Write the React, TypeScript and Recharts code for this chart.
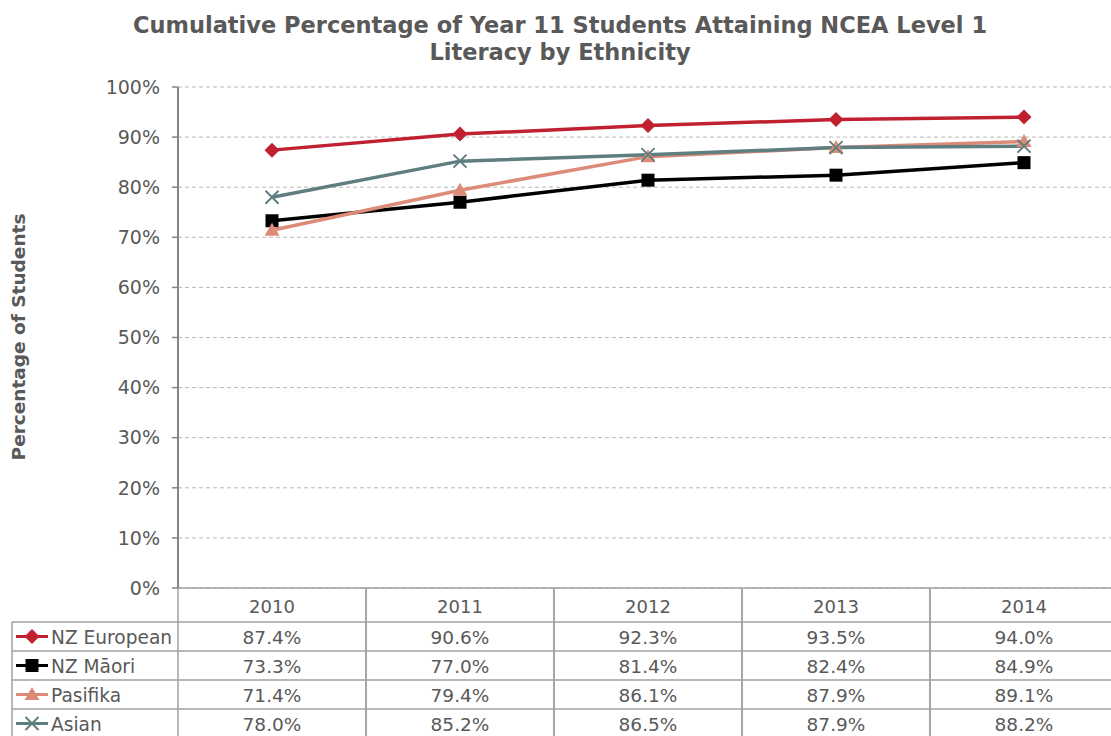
import { CartesianGrid, Line, LineChart, XAxis, YAxis } from "recharts";

const years = ["2010", "2011", "2012", "2013", "2014"];
const nzEuropean = [87.4, 90.6, 92.3, 93.5, 94.0];
const nzMaori = [73.3, 77.0, 81.4, 82.4, 84.9];
const pasifika = [71.4, 79.4, 86.1, 87.9, 89.1];
const asian = [78.0, 85.2, 86.5, 87.9, 88.2];
const yTicks = [0, 10, 20, 30, 40, 50, 60, 70, 80, 90, 100];

const series = [
  { key: "european", name: "NZ European", values: nzEuropean, color: "#c0202f", shape: "diamond" },
  { key: "maori", name: "NZ Māori", values: nzMaori, color: "#000000", shape: "square" },
  { key: "pasifika", name: "Pasifika", values: pasifika, color: "#dc8b79", shape: "triangle" },
  { key: "asian", name: "Asian", values: asian, color: "#5e7e80", shape: "cross" },
];

const data = years.map((year, i) => {
  const row: Record<string, string | number> = { year };
  series.forEach((s) => (row[s.key] = s.values[i]));
  return row;
});

const CHART_W = 1118;
const CHART_H = 740;
const PLOT_LEFT = 178;
const PLOT_TOP = 87;
const TABLE_H = 152;
const BAND = (CHART_W - PLOT_LEFT) / years.length;
const HEADER_H = 34;
const ROW_H = 29;
const TEXT = "#595959";
const RULE = "#a0a0a0";
const FONT = "'DejaVu Sans', Verdana, sans-serif";

function Marker({ cx, cy, shape, color }: { cx: number; cy: number; shape: string; color: string }) {
  if (shape === "diamond") {
    const r = 7.5;
    return <path d={`M${cx},${cy - r}L${cx + r},${cy}L${cx},${cy + r}L${cx - r},${cy}Z`} fill={color} />;
  }
  if (shape === "square") {
    return <rect x={cx - 6.5} y={cy - 6.5} width={13} height={13} fill={color} />;
  }
  if (shape === "triangle") {
    return <path d={`M${cx},${cy - 7.5}L${cx + 7.5},${cy + 5.5}L${cx - 7.5},${cy + 5.5}Z`} fill={color} />;
  }
  const r = 6.5;
  return (
    <path
      d={`M${cx - r},${cy - r}L${cx + r},${cy + r}M${cx - r},${cy + r}L${cx + r},${cy - r}`}
      stroke={color}
      strokeWidth={2}
      fill="none"
    />
  );
}

function TableTick(props: any) {
  const { x, y, payload } = props;
  const i = payload.index;
  const left = x - BAND / 2;
  const right = x + BAND / 2;
  const bottom = y + TABLE_H;
  const rowTop = (r: number) => y + HEADER_H + r * ROW_H;

  return (
    <g>
      <line x1={left} y1={y} x2={left} y2={bottom} stroke={RULE} strokeWidth={1.5} />
      <line x1={right} y1={y} x2={right} y2={bottom} stroke={RULE} strokeWidth={1.5} />
      <text x={x} y={y + HEADER_H / 2 + 1} textAnchor="middle" dominantBaseline="central" fill={TEXT} fontSize={18} fontFamily={FONT}>
        {payload.value}
      </text>
      {series.map((s, r) => (
        <g key={s.key}>
          <line x1={left} y1={rowTop(r)} x2={right} y2={rowTop(r)} stroke={RULE} strokeWidth={1.5} />
          <text x={x} y={rowTop(r) + ROW_H / 2 + 1} textAnchor="middle" dominantBaseline="central" fill={TEXT} fontSize={18.5} fontFamily={FONT}>
            {s.values[i].toFixed(1)}%
          </text>
        </g>
      ))}
      {i === 0 && (
        <g>
          <line x1={12} y1={rowTop(0)} x2={12} y2={bottom} stroke={RULE} strokeWidth={1.5} />
          {series.map((s, r) => {
            const cy = rowTop(r) + ROW_H / 2;
            return (
              <g key={s.key}>
                <line x1={12} y1={rowTop(r)} x2={left} y2={rowTop(r)} stroke={RULE} strokeWidth={1.5} />
                <line x1={16} y1={cy} x2={48} y2={cy} stroke={s.color} strokeWidth={3} />
                <Marker cx={32} cy={cy} shape={s.shape} color={s.color} />
                <text x={51} y={cy + 1} dominantBaseline="central" fill={TEXT} fontSize={18.6} fontFamily={FONT}>
                  {s.name}
                </text>
              </g>
            );
          })}
        </g>
      )}
    </g>
  );
}

export default function App() {
  return (
    <div style={{ position: "fixed", left: 0, top: 0, width: 1111, height: 736, overflow: "hidden", background: "#fff" }}>
      <div
        style={{
          position: "absolute",
          left: 560,
          top: 12,
          transform: "translateX(-50%)",
          whiteSpace: "nowrap",
          textAlign: "center",
          fontFamily: FONT,
          fontWeight: "bold",
          fontSize: 22.5,
          lineHeight: "27px",
          color: TEXT,
        }}
      >
        Cumulative Percentage of Year 11 Students Attaining NCEA Level 1
        <br />
        Literacy by Ethnicity
      </div>
      <div
        style={{
          position: "absolute",
          left: 18,
          top: 337,
          transform: "translate(-50%, -50%) rotate(-90deg)",
          whiteSpace: "nowrap",
          fontFamily: FONT,
          fontWeight: "bold",
          fontSize: 18.5,
          color: TEXT,
        }}
      >
        Percentage of Students
      </div>
      <LineChart width={CHART_W} height={CHART_H} data={data} margin={{ top: PLOT_TOP, right: 0, bottom: 0, left: 0 }}>
        <CartesianGrid vertical={false} stroke="#b8b8b8" strokeDasharray="4 3" />
        <XAxis
          dataKey="year"
          height={TABLE_H}
          padding={{ left: BAND / 2, right: BAND / 2 }}
          axisLine={{ stroke: RULE, strokeWidth: 1.5 }}
          tickLine={false}
          tickSize={0}
          tickMargin={0}
          interval={0}
          tick={<TableTick />}
        />
        <YAxis
          width={PLOT_LEFT}
          domain={[0, 100]}
          ticks={yTicks}
          tickFormatter={(v) => `${v}%`}
          axisLine={{ stroke: "#868686", strokeWidth: 2 }}
          tickLine={{ stroke: "#868686", strokeWidth: 1.5 }}
          tickSize={6}
          tickMargin={12}
          tick={{ fill: TEXT, fontSize: 19, fontFamily: FONT }}
        />
        {series.map((s) => (
          <Line
            key={s.key}
            dataKey={s.key}
            name={s.name}
            stroke={s.color}
            strokeWidth={3.5}
            isAnimationActive={false}
            dot={(p: any) => <Marker key={`${s.key}-${p.index}`} cx={p.cx} cy={p.cy} shape={s.shape} color={s.color} />}
            activeDot={false}
          />
        ))}
      </LineChart>
    </div>
  );
}
